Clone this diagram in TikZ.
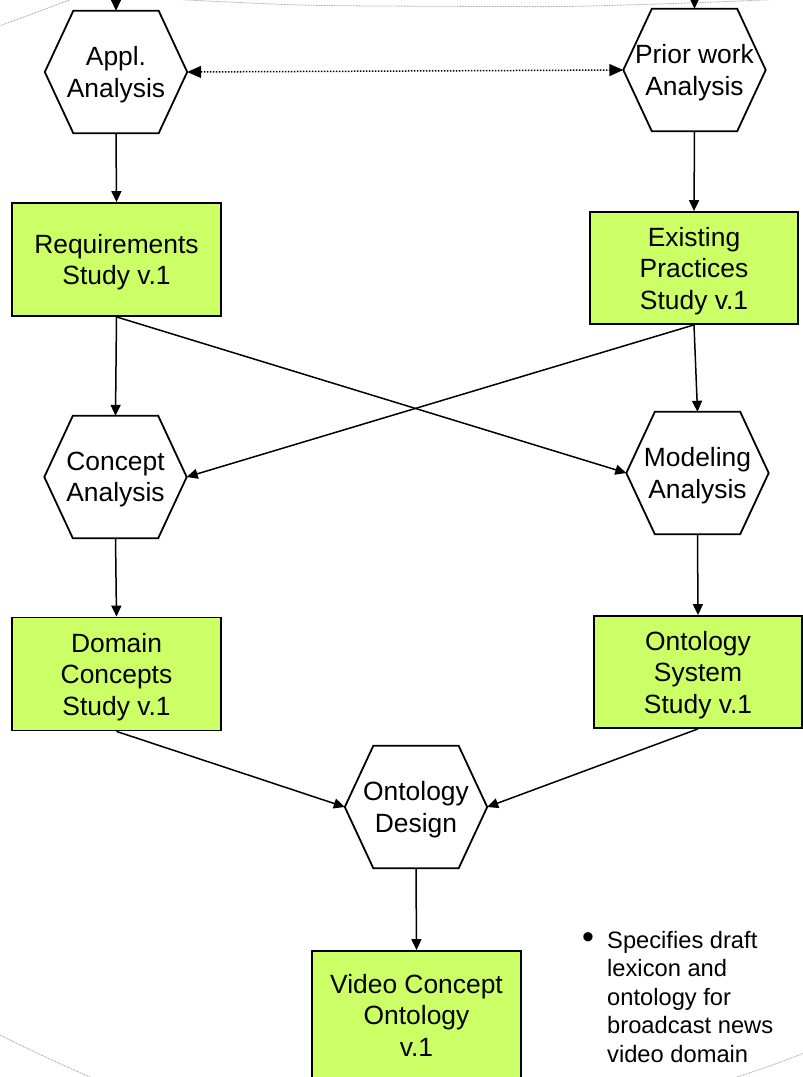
\documentclass[tikz,border=0pt]{standalone}
\usepackage{fontspec}
\setmainfont{Liberation Sans}
\usetikzlibrary{arrows.meta,calc}
\definecolor{studygreen}{HTML}{CCFF66}
\newcommand\studyfont{\fontsize{26.4}{31.5}\selectfont}
\newcommand\notefont{\fontsize{23.7}{28.5}\selectfont}
% hexagonal outline drawn around a rectangular node
\newcommand\hexoutline[1]{%
  \draw[hexline] ($(#1.north west)+(28.5,0)$) -- ($(#1.north east)+(-28.5,0)$)
    -- (#1.east) -- ($(#1.south east)+(-28.5,0)$)
    -- ($(#1.south west)+(28.5,0)$) -- (#1.west) -- cycle;}
\begin{document}
\begin{tikzpicture}[x=1pt,y=-1pt,
  box/.style={draw=black, line width=1.8pt, fill=studygreen, minimum width=209pt,
    minimum height=113pt, inner sep=0pt, align=center, font=\studyfont, text depth=-2pt},
  hexnode/.style={minimum width=142pt, minimum height=122pt, inner sep=0pt,
    align=center, font=\studyfont, text depth=-2pt},
  hexline/.style={draw=black, line width=1.8pt, line join=miter},
  flow/.style={-{Triangle[length=11pt,width=10pt]}, line width=1.5pt},
  link/.style={{Triangle[length=14pt,width=12pt]}-{Triangle[length=14pt,width=12pt]},
    line width=1.5pt, dash pattern=on 1.5pt off 1.5pt},
  outline/.style={draw=gray!75, line width=0.8pt, dash pattern=on 0.8pt off 0.8pt}]

\useasboundingbox (0,0) rectangle (803,1077);
\clip (0,0) rectangle (803,1077);
\fill[white] (0,0) rectangle (803,1077);

% faint outlines of the surrounding groups
\draw[outline] (-4,27) .. controls (25,17) and (50,7) .. (75,-2);
\draw[outline] plot[smooth] coordinates {(150,-2) (300,5) (450,6.3) (550,6.6) (600,5.7) (697,2.7) (785,-1)};
\draw[outline] (-4,1033) .. controls (30,1050) and (60,1064) .. (97,1080);
\draw[outline] (728,1080) .. controls (755,1071) and (780,1063) .. (806,1052);

% activities
\node[hexnode] (appl)    at (116,72)    {Appl.\\Analysis};
\node[hexnode] (prior)   at (694.5,70)  {Prior work\\Analysis};
\node[hexnode] (concept) at (115.5,477) {Concept\\Analysis};
\node[hexnode] (model)   at (697.5,473) {Modeling\\Analysis};
\node[hexnode] (design)  at (416,807)   {Ontology\\Design};
\hexoutline{appl}
\hexoutline{prior}
\hexoutline{concept}
\hexoutline{model}
\hexoutline{design}

% study results
\node[box] (req)    at (116.5,259.5) {Requirements\\Study v.1};
\node[box, minimum width=208pt, minimum height=112pt] (exist) at (694,268) {Existing\\Practices\\Study v.1};
\node[box] (domain) at (116.5,674) {Domain\\Concepts\\Study v.1};
\node[box, minimum width=208pt, minimum height=112pt] (ontsys) at (698,672) {Ontology\\System\\Study v.1};
\node[box, minimum height=128pt, text depth=0pt] (video) at (416.5,1015) {Video Concept\\Ontology\\v.1};

% incoming flows from above
\coordinate (inA) at (116,-10);
\coordinate (inB) at (694.5,-10);
\draw[flow] (inA) -- (appl.north);
\draw[flow] (inB) -- (prior.north);

% flows
\draw[link] (appl.east) -- (prior.west);
\draw[flow] (appl.south) -- (req.north);
\draw[flow] (prior.south) -- (exist.north);
\draw[flow] (req.south) -- (concept.north);
\draw[flow] (req.south) -- (model.west);
\draw[flow] (exist.south) -- (concept.east);
\draw[flow] (exist.south) -- (model.north);
\draw[flow] (concept.south) -- (domain.north);
\draw[flow] (model.south) -- (ontsys.north);
\draw[flow] (domain.south) -- (design.west);
\draw[flow] (ontsys.south) -- (design.east);
\draw[flow] (design.south) -- (video.north);

% note
\node[font=\fontsize{34}{34}\selectfont, inner sep=0pt] (dot) at (588,941) {\textbullet};
\node[font=\notefont, inner sep=0pt, align=left, anchor=north west] (note) at (607,931)
  {Specifies draft\\lexicon and\\ontology for\\broadcast news\\video domain};
\end{tikzpicture}
\end{document}
